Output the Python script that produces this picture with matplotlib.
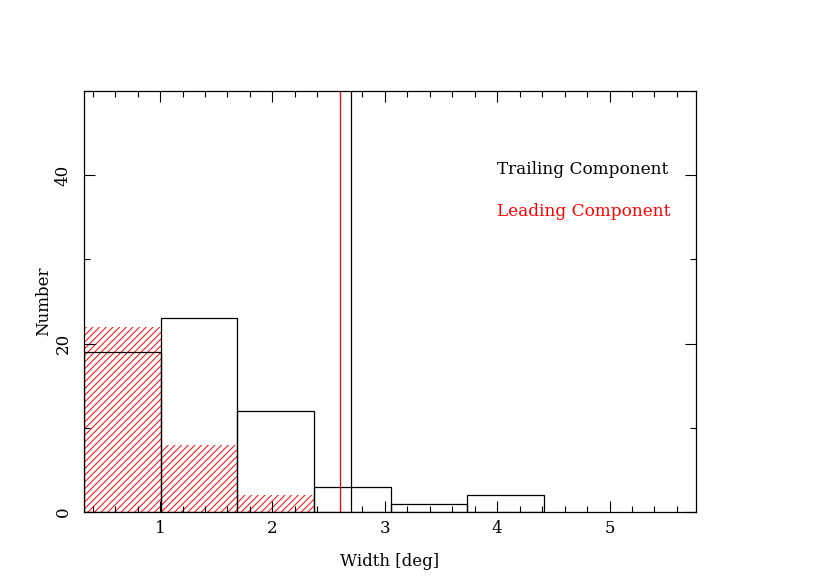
import numpy as np
import matplotlib
matplotlib.use("Agg")
import matplotlib.pyplot as plt
from matplotlib.ticker import MultipleLocator

# bin edges [deg] and counts
bin_edges = [0.323, 1.005, 1.688, 2.37, 3.053, 3.735, 4.418]
trailing = [19, 23, 12, 3, 1, 2]
leading = [22, 8, 2, 0, 0, 0]
trailing_mean = 2.695
leading_mean = 2.597

plt.rcParams['font.family'] = ['DejaVu Serif']
plt.rcParams['hatch.linewidth'] = 0.7

fig = plt.figure(figsize=(8.3, 5.87), dpi=100)
ax = fig.add_axes([0.1012, 0.1278, 0.7374, 0.7172])

edges = np.array(bin_edges)
# leading component: red hatched bars
ax.bar(edges[:-1], leading, width=np.diff(edges), align='edge',
       facecolor='none', edgecolor='red', hatch='/////', linewidth=0)
# trailing component: black outlined bars
ax.bar(edges[:-1], trailing, width=np.diff(edges), align='edge',
       facecolor='none', edgecolor='black', linewidth=0.9)

ax.axvline(leading_mean, color='red', linewidth=0.9)
ax.axvline(trailing_mean, color='black', linewidth=0.9)

ax.text(4.0, 40.7, 'Trailing Component', color='black', fontsize=12.2,
        va='center', ha='left')
ax.text(4.0, 35.7, 'Leading Component', color='red', fontsize=12.2,
        va='center', ha='left')

ax.set_xlim(0.323, 5.77)
ax.set_ylim(0, 50)
ax.xaxis.set_major_locator(MultipleLocator(1))
ax.xaxis.set_minor_locator(MultipleLocator(0.2))
ax.yaxis.set_major_locator(MultipleLocator(20))
ax.yaxis.set_minor_locator(MultipleLocator(10))
ax.tick_params(which='both', direction='in', top=True, right=True,
               labelsize=12, width=0.8)
ax.tick_params(which='major', length=8)
ax.tick_params(axis='x', which='major', pad=6)
ax.tick_params(axis='y', which='major', pad=9)
ax.tick_params(which='minor', length=4)
for lab in ax.get_yticklabels():
    lab.set_rotation(90)
    lab.set_va('center')
for s in ax.spines.values():
    s.set_linewidth(0.9)

ax.set_xlabel('Width [deg]', fontsize=12, labelpad=11)
ax.set_ylabel('Number', fontsize=12, labelpad=2)

fig.savefig('out.png', dpi=100)
